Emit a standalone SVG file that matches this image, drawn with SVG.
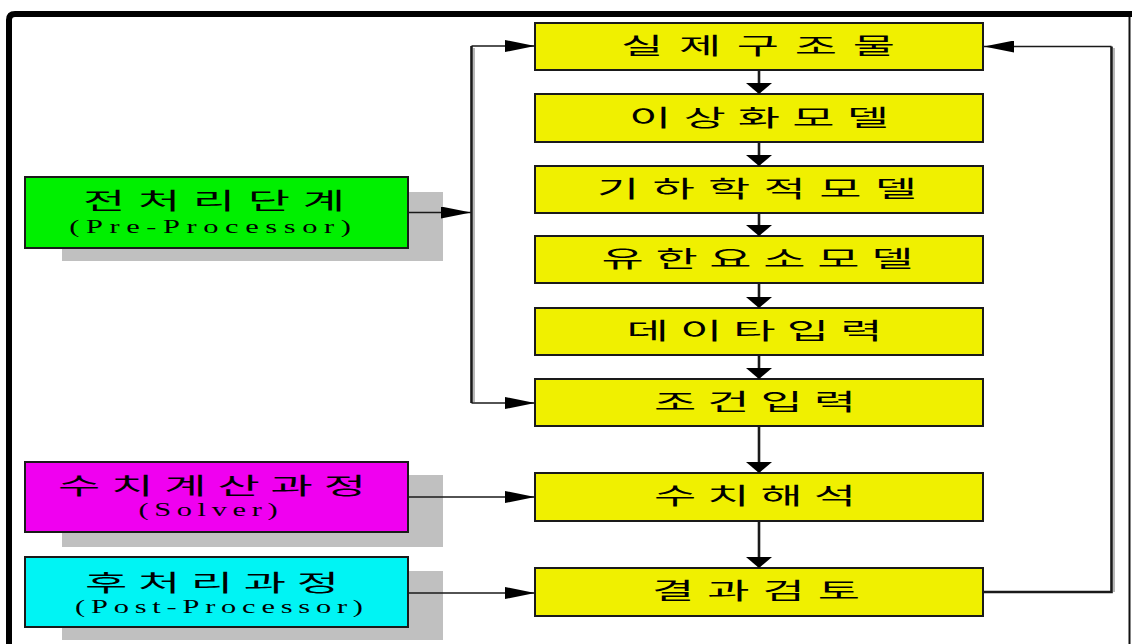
<svg xmlns="http://www.w3.org/2000/svg" width="1132" height="644" viewBox="0 0 1132 644">
<style>
.box{stroke:#1a1a1a;stroke-width:2}
.yel{fill:#f0f000}
.shd{fill:#c0c0c0}
.ko{font-family:"Noto Sans CJK KR","Noto Sans",sans-serif;font-size:23px;fill:#000;text-anchor:middle}
.en{font-family:"Liberation Serif",serif;font-size:19px;fill:#000;text-anchor:middle}
.thin{fill:none;stroke:#1a1a1a;stroke-width:1.6}
.thick{fill:none;stroke:#1a1a1a;stroke-width:2.6}
.sh{fill:none;stroke:#9a9a9a;stroke-width:1.4}
</style>
<defs>
<marker id="ah" markerUnits="userSpaceOnUse" viewBox="0 0 30 12" refX="30" refY="6" markerWidth="30" markerHeight="12" orient="auto"><path d="M0,0 L30,6 L0,12 Z" fill="#000"/></marker>
<marker id="av" markerUnits="userSpaceOnUse" viewBox="0 0 11 26" refX="11" refY="13" markerWidth="11" markerHeight="26" orient="auto"><path d="M0,0 L11,13 L0,26 Z" fill="#000"/></marker>
</defs>
<rect width="1132" height="644" fill="#fff"/>
<g id="frame">
<path d="M9,650 V20 Q9,14 15,14 H1140" fill="none" stroke="#000" stroke-width="6"/>
<line x1="1129.5" y1="17" x2="1129.5" y2="644" stroke="#111" stroke-width="2"/>
</g>
<g id="pre">
<rect class="shd" x="62" y="192" width="381" height="69"/>
<rect class="box" x="25" y="177" width="383" height="71" fill="#00f000"/>
<text class="ko" transform="translate(214,209) scale(2,1)" textLength="131" lengthAdjust="spacing">전처리단계</text>
<text class="en" transform="translate(210,233) scale(1.6,1)" textLength="176" lengthAdjust="spacing">(Pre-Processor)</text>
</g>
<g id="solver">
<rect class="shd" x="62" y="475" width="381" height="72"/>
<rect class="box" x="25" y="462" width="383" height="70" fill="#f000f0"/>
<text class="ko" transform="translate(212,494) scale(2,1)" textLength="154" lengthAdjust="spacing">수치계산과정</text>
<text class="en" transform="translate(208,516) scale(1.6,1)" textLength="87" lengthAdjust="spacing">(Solver)</text>
</g>
<g id="post">
<rect class="shd" x="62" y="571" width="381" height="69"/>
<rect class="box" x="25" y="557" width="383" height="70" fill="#00f4f4"/>
<text class="ko" transform="translate(212,591) scale(2,1)" textLength="127" lengthAdjust="spacing">후처리과정</text>
<text class="en" transform="translate(219,613) scale(1.6,1)" textLength="180" lengthAdjust="spacing">(Post-Processor)</text>
</g>
<g id="n1"><rect class="box yel" x="535" y="23" width="448" height="47"/><text class="ko" transform="translate(758,54) scale(2,1)" textLength="137" lengthAdjust="spacing">실제구조물</text></g>
<g id="n2"><rect class="box yel" x="535" y="94" width="448" height="48"/><text class="ko" transform="translate(759,125.5) scale(2,1)" textLength="130" lengthAdjust="spacing">이상화모델</text></g>
<g id="n3"><rect class="box yel" x="535" y="166" width="448" height="47"/><text class="ko" transform="translate(757,197) scale(2,1)" textLength="160" lengthAdjust="spacing">기하학적모델</text></g>
<g id="n4"><rect class="box yel" x="535" y="236" width="448" height="47"/><text class="ko" transform="translate(757.5,267) scale(2,1)" textLength="156" lengthAdjust="spacing">유한요소모델</text></g>
<g id="n5"><rect class="box yel" x="535" y="308" width="448" height="47"/><text class="ko" transform="translate(754.5,339) scale(2,1)" textLength="128" lengthAdjust="spacing">데이타입력</text></g>
<g id="n6"><rect class="box yel" x="535" y="379" width="448" height="47"/><text class="ko" transform="translate(755,410) scale(2,1)" textLength="101" lengthAdjust="spacing">조건입력</text></g>
<g id="n7"><rect class="box yel" x="535" y="473" width="448" height="48"/><text class="ko" transform="translate(755,504) scale(2,1)" textLength="101" lengthAdjust="spacing">수치해석</text></g>
<g id="n8"><rect class="box yel" x="535" y="568" width="448" height="48"/><text class="ko" transform="translate(756,599) scale(2,1)" textLength="104" lengthAdjust="spacing">결과검토</text></g>
<g id="connectors">
<line class="sh" x1="474" y1="48" x2="474" y2="402"/>
<line class="thick" x1="471.5" y1="46" x2="471.5" y2="403"/>
<path class="thin" d="M471.5,46 H535" marker-end="url(#ah)"/>
<path class="thin" d="M471.5,403 H535" marker-end="url(#ah)"/>
<path class="thin" d="M408,212.5 H471" marker-end="url(#ah)"/>
<path class="thin" d="M408,497 H535" marker-end="url(#ah)"/>
<path class="thin" d="M408,593 H535" marker-end="url(#ah)"/>
<line class="sh" x1="1114" y1="48" x2="1114" y2="592"/>
<path class="thick" d="M983,592 H1111.5 V46.5"/>
<path class="thin" d="M1111.5,46.5 H984" marker-end="url(#ah)"/>
<path class="thick" d="M759,70 V94" marker-end="url(#av)"/>
<path class="thick" d="M759,142 V166" marker-end="url(#av)"/>
<path class="thick" d="M759,213 V236" marker-end="url(#av)"/>
<path class="thick" d="M759,283 V308" marker-end="url(#av)"/>
<path class="thick" d="M759,355 V379" marker-end="url(#av)"/>
<path class="thick" d="M759,426 V473" marker-end="url(#av)"/>
<path class="thick" d="M759,521 V568" marker-end="url(#av)"/>
</g>
</svg>
